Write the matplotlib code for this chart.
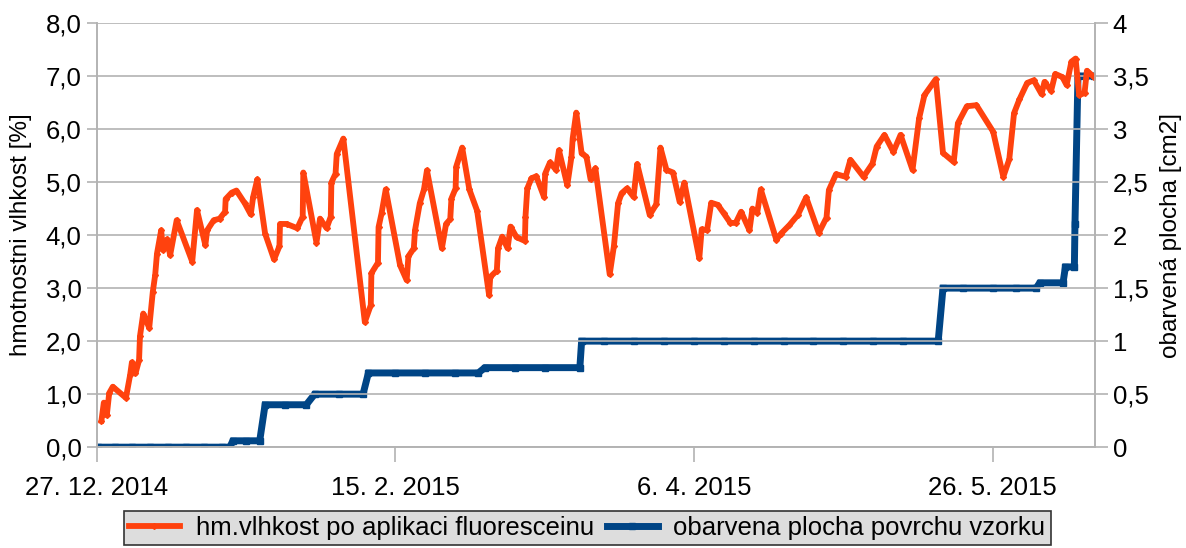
import matplotlib
matplotlib.use("Agg")
import matplotlib.pyplot as plt
from matplotlib.ticker import FuncFormatter, MultipleLocator
import numpy as np
import pandas as pd

plt.rcParams['font.family'] = ['Liberation Sans', 'DejaVu Sans']

base_date = "2014-12-27"

# orange series: day offsets from 27.12.2014 and moisture values [%]
moist_days = [0.8, 1.2, 1.7, 2.1, 2.7, 4.9, 5.6, 5.9, 6.5, 7.1, 7.25, 7.8, 8.8, 9.4, 9.8,
              10.1, 10.8, 11.1, 11.8, 12.3, 13.4, 16.0, 16.8, 18.2, 18.5, 19.6, 20.6, 21.5,
              21.6, 22.6, 23.4, 24.8, 25.8, 26.2, 26.9, 28.2, 29.7, 30.6, 30.7, 31.8, 33.6,
              34.5, 34.6, 36.8, 37.4, 38.5, 39.2, 39.3, 40.0, 40.2, 41.3, 44.9, 45.9, 46.0,
              47.1, 47.2, 47.7, 48.4, 50.8, 51.9, 52.2, 53.1, 53.3, 54.1, 54.8, 55.3, 57.8,
              58.5, 59.2, 59.4, 60.1, 60.2, 61.2, 62.4, 63.7, 65.7, 65.9, 67.0, 67.2, 67.9,
              68.8, 69.3, 70.3, 71.7, 71.8, 72.1, 72.8, 73.6, 74.9, 75.1, 75.9, 76.9, 77.4,
              78.8, 79.5, 79.7, 80.3, 81.2, 82.0, 82.7, 83.5, 85.9, 86.6, 87.3, 87.9, 88.8,
              89.9, 90.5, 92.6, 93.7, 94.4, 95.4, 96.5, 97.6, 98.4, 100.9, 101.3, 102.2,
              102.9, 104.0, 105.0, 106.1, 107.0, 107.9, 109.3, 109.8, 110.6, 111.2, 113.8,
              114.6, 116.0, 117.4, 118.8, 120.9, 122.2, 122.6, 123.8, 125.4, 126.2, 128.4,
              129.9, 130.6, 131.9, 133.4, 134.6, 136.6, 137.7, 138.6, 140.5, 141.7, 143.5,
              144.2, 145.7, 147.3, 150.1, 151.8, 152.8, 153.6, 154.5, 155.8, 156.9, 158.2,
              158.7, 159.8, 160.5, 161.7, 162.4, 163.2, 163.9, 164.5, 165.4, 165.8, 167.0]
moist_vals = [0.50, 0.84, 0.60, 1.02, 1.14, 0.93, 1.36, 1.60, 1.39, 1.64, 2.09, 2.52, 2.25, 2.93, 3.25,
              3.65, 4.09, 3.72, 3.92, 3.62, 4.28, 3.50, 4.47, 3.81, 4.09, 4.28, 4.31, 4.44,
              4.68, 4.80, 4.84, 4.60, 4.39, 4.72, 5.05, 4.03, 3.54, 3.79, 4.21, 4.21, 4.13,
              4.35, 5.18, 3.86, 4.31, 4.13, 4.35, 4.99, 5.16, 5.53, 5.82, 2.36, 2.68, 3.28,
              3.48, 4.15, 4.41, 4.86, 3.43, 3.15, 3.60, 3.75, 4.09, 4.60, 4.86, 5.22, 3.75,
              4.21, 4.30, 4.69, 4.88, 5.29, 5.65, 4.86, 4.46, 2.87, 3.21, 3.33, 3.75, 3.97,
              3.75, 4.16, 3.96, 3.89, 4.35, 4.88, 5.07, 5.11, 4.72, 5.16, 5.37, 5.23, 5.60,
              4.94, 5.48, 5.82, 6.31, 5.54, 5.48, 5.05, 5.26, 3.26, 3.79, 4.60, 4.79, 4.88,
              4.72, 5.34, 4.38, 4.58, 5.65, 5.23, 5.18, 4.63, 4.99, 3.56, 4.11, 4.09,
              4.61, 4.57, 4.41, 4.23, 4.23, 4.44, 4.09, 4.50, 4.42, 4.86, 3.91,
              4.03, 4.19, 4.38, 4.71, 4.04, 4.33, 4.85, 5.15, 5.10, 5.42, 5.10,
              5.35, 5.67, 5.89, 5.57, 5.89, 5.23, 6.20, 6.64, 6.94, 5.55, 5.38,
              6.11, 6.43, 6.45, 5.95, 5.10, 5.43, 6.30, 6.56, 6.87, 6.92, 6.66,
              6.89, 6.72, 7.04, 6.98, 6.83, 7.27, 7.33, 6.64, 6.68, 7.10, 6.98]

# blue series: stained surface area [cm2]
area_days = [0.2, 3.0, 6.0, 9.0, 12.0, 15.0, 18.0, 21.0, 22.3, 22.8, 25.0, 27.3,
             28.2, 31.5, 35.1, 36.5, 40.5, 44.6, 45.5, 50.0, 55.0, 60.0, 63.9,
             65.0, 70.0, 75.0, 80.9, 81.2, 85.0, 90.0, 95.0, 100.0, 105.0, 110.0,
             115.0, 120.0, 125.0, 130.0, 135.0, 140.9, 141.7, 145.0, 150.0, 154.0,
             157.3, 157.9, 161.8, 162.2, 163.7, 163.8, 164.3, 165.5, 167.0]
area_vals = [0, 0, 0, 0, 0, 0, 0, 0, 0, 0.06, 0.06, 0.06,
             0.40, 0.40, 0.40, 0.50, 0.50, 0.50, 0.70, 0.70, 0.70, 0.70, 0.70,
             0.75, 0.75, 0.75, 0.75, 1.00, 1.00, 1.00, 1.00, 1.00, 1.00, 1.00,
             1.00, 1.00, 1.00, 1.00, 1.00, 1.00, 1.50, 1.50, 1.50, 1.50,
             1.50, 1.55, 1.55, 1.70, 1.70, 2.10, 3.50, 3.50, 3.50]

tick_days = [0, 50, 100, 150]
x_max_day = 167.1

series_names = ["hm.vlhkost po aplikaci fluoresceinu", "obarvena plocha povrchu vzorku"]
left_label = "hmotnostni vlhkost [%]"
right_label = "obarvená plocha [cm2]"

orange = "#ff420e"
blue = "#004586"
grid_c = "#b3b3b3"

t0 = pd.Timestamp(base_date)
def to_dates(days):
    return [t0 + pd.Timedelta(days=float(d)) for d in days]

fig = plt.figure(figsize=(11.86, 5.48), dpi=100)
ax = fig.add_axes([0.0815, 0.184, 0.8415, 0.774])
ax2 = ax.twinx()

ax.set_zorder(ax2.get_zorder() + 1)
ax.patch.set_visible(False)

l2, = ax2.plot(to_dates(area_days), area_vals, color=blue, lw=5.0, marker='s',
               ms=4.6, mec=blue, mfc=blue, solid_joinstyle='miter')
l1, = ax.plot(to_dates(moist_days), moist_vals, color=orange, lw=4.2, marker='D',
              ms=3.0, mec=orange, mfc=orange, solid_joinstyle='round')

ax.set_ylim(0, 8)
ax2.set_ylim(0, 4)
ax.set_xlim(t0, t0 + pd.Timedelta(days=x_max_day))

ax.yaxis.set_major_locator(MultipleLocator(1))
ax2.yaxis.set_major_locator(MultipleLocator(0.5))
ax.yaxis.set_major_formatter(FuncFormatter(lambda v, p: f"{v:.1f}".replace('.', ',')))
def rfmt(v, p):
    s = f"{v:g}"
    return s.replace('.', ',')
ax2.yaxis.set_major_formatter(FuncFormatter(rfmt))

ticks = to_dates(tick_days)
ax.set_xticks(ticks)
ax.set_xticklabels([f"{t.day}. {t.month}. {t.year}" for t in ticks])

ax.grid(axis='y', color=grid_c, lw=1.2)
ax.set_axisbelow(True)
for a in (ax, ax2):
    for s in a.spines.values():
        s.set_color(grid_c)
        s.set_linewidth(1.2)
ax.spines['top'].set_visible(False)
ax2.spines['top'].set_visible(False)

ax.tick_params(axis='both', colors=grid_c, labelcolor='black', labelsize=18.5, width=1.2)
ax.tick_params(axis='x', length=11, pad=10)
ax.tick_params(axis='y', length=7, pad=4)
ax2.tick_params(axis='y', colors=grid_c, labelcolor='black', labelsize=18.5, width=1.2, length=9, pad=4)

ax.set_ylabel(left_label, fontsize=17.5, labelpad=10)
ax2.set_ylabel(right_label, fontsize=17.5, labelpad=8)

leg = fig.legend([l1, l2], series_names, loc='lower center', ncol=2,
                 bbox_to_anchor=(0.495, 0.0), fontsize=18.5, frameon=True,
                 fancybox=False, facecolor='#dddddd', edgecolor='#333333',
                 handlelength=2.0, handletextpad=0.6, columnspacing=0.5,
                 borderpad=0.2, borderaxespad=0.1)
leg.get_frame().set_linewidth(1.2)
leg.get_frame().set_alpha(1)

fig.savefig("out.png", dpi=100)
